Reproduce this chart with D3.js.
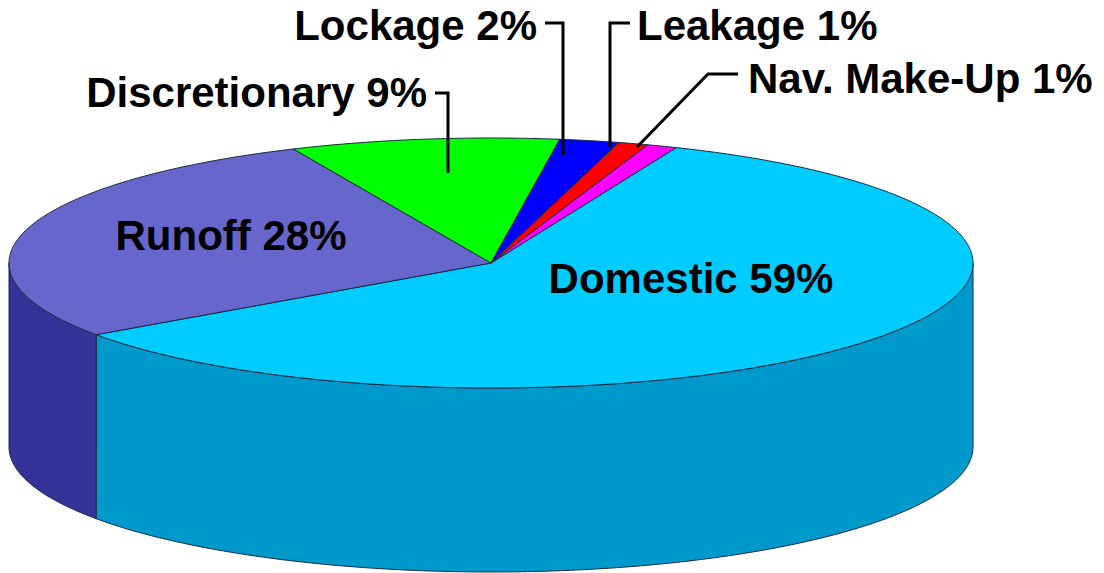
<!DOCTYPE html>
<html>
<head>
<meta charset="utf-8">
<script src="https://cdn.jsdelivr.net/npm/d3@7"></script>
<style>
  html, body { margin: 0; padding: 0; background: #fff; }
  svg { display: block; }
  text { font-family: "Liberation Sans", Arial, sans-serif; font-weight: bold; font-size: 42px; fill: #000; }
</style>
</head>
<body>
<svg id="chart" width="1104" height="573"></svg>
<script>
// Water use shares (percent)
const categories = ["Domestic", "Runoff", "Discretionary", "Lockage", "Leakage", "Nav. Make-Up"];
const values = [59, 28, 9, 2, 1, 1];
const topColors = ["#00CCFF", "#6666CC", "#00FF00", "#0000FF", "#FF0000", "#FF00FF"];
const sideColors = ["#0099CC", "#333399", "#00BB00", "#0000AA", "#BB0000", "#BB00BB"];

// Ellipse geometry of the tilted disc
const cx = 491, cy = 263, rx = 482, ry = 125, depth = 184;
const startDeg = 22.6;

const svg = d3.select("#chart");

const pie = d3.pie().sort(null).value(d => d)
  .startAngle(startDeg * Math.PI / 180)
  .endAngle(startDeg * Math.PI / 180 + 2 * Math.PI);
const arcs = pie(values).map((a, i) => ({
  i,
  t0: a.startAngle - Math.PI / 2,
  t1: a.endAngle - Math.PI / 2
}));

const pt = (t, f = 1, dy = 0) => [cx + rx * f * Math.cos(t), cy + ry * f * Math.sin(t) + dy];
const sample = (t0, t1, dy = 0) => {
  const n = Math.max(2, Math.ceil((t1 - t0) / 0.01));
  return d3.range(n + 1).map(k => pt(t0 + (t1 - t0) * k / n, 1, dy));
};
const line = d3.line();

// Side walls: only the front half (t in [0, PI] mod 2PI) is visible
const sides = svg.append("g");
arcs.forEach(a => {
  for (let k = -1; k <= 2; k++) {
    const lo = Math.max(a.t0, k * 2 * Math.PI);
    const hi = Math.min(a.t1, k * 2 * Math.PI + Math.PI);
    if (hi > lo) {
      const topEdge = sample(lo, hi);
      const botEdge = sample(lo, hi, depth).reverse();
      sides.append("path")
        .attr("d", line(topEdge.concat(botEdge)) + "Z")
        .attr("fill", sideColors[a.i])
        .attr("stroke", "#1a2a40")
        .attr("stroke-width", 1)
        .attr("stroke-linejoin", "round");
    }
  }
});

// Top face slices
const tops = svg.append("g");
arcs.forEach(a => {
  const pts = [[cx, cy]].concat(sample(a.t0, a.t1));
  tops.append("path")
    .attr("d", line(pts) + "Z")
    .attr("fill", topColors[a.i])
    .attr("stroke", "#1a2a40")
    .attr("stroke-width", 1)
    .attr("stroke-linejoin", "round");
});

// Labels placed inside the large slices
const inside = [
  { i: 0, x: 691, y: 293 },
  { i: 1, x: 231, y: 250 }
];
inside.forEach(l => {
  svg.append("text")
    .attr("x", l.x).attr("y", l.y)
    .attr("text-anchor", "middle")
    .text(`${categories[l.i]} ${values[l.i]}%`);
});

// Callout labels for the small slices, with leader lines
const callouts = [
  { i: 2, x: 427, y: 107, anchor: "end",   leader: [[435, 93], [448, 93], [448, 173]] },
  { i: 3, x: 537, y: 40,  anchor: "end",   leader: [[545, 23], [563, 23], [563, 155]] },
  { i: 4, x: 637, y: 40,  anchor: "start", leader: [[630, 23], [610, 23], [610, 147]] },
  { i: 5, x: 748, y: 93,  anchor: "start", leader: [[738, 74], [708, 74], [637, 147]] }
];
callouts.forEach(c => {
  svg.append("path")
    .attr("d", line(c.leader))
    .attr("fill", "none")
    .attr("stroke", "#000")
    .attr("stroke-width", 3);
  svg.append("text")
    .attr("x", c.x).attr("y", c.y)
    .attr("text-anchor", c.anchor)
    .text(`${categories[c.i]} ${values[c.i]}%`);
});
</script>
</body>
</html>
